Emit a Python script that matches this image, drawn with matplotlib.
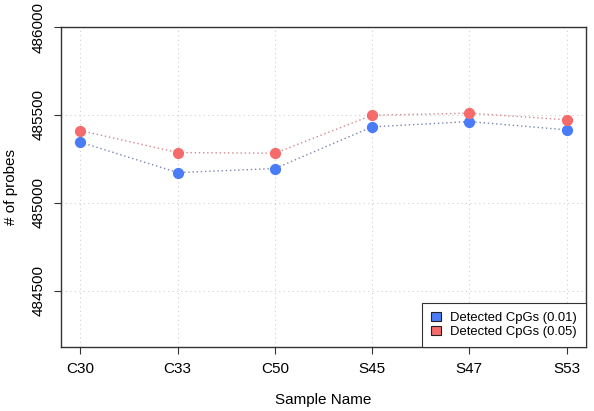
import matplotlib
matplotlib.use("Agg")
import matplotlib.pyplot as plt
from matplotlib.patches import Patch

plt.rcParams.update({
    "font.family": ["Liberation Sans", "DejaVu Sans"],
    "font.size": 11,
})

samples = ["C30", "C33", "C50", "S45", "S47", "S53"]
detected_01 = [485345, 485172, 485195, 485432, 485462, 485415]
detected_05 = [485411, 485286, 485282, 485498, 485510, 485472]
y_ticks = [484500, 485000, 485500, 486000]

blue = "#4a7cf7"
red = "#f56b6b"

fig = plt.figure(figsize=(5.94, 4.11), dpi=100)
ax = fig.add_axes([0.1027, 0.1557, 0.8838, 0.7786])

x = list(range(1, len(samples) + 1))
ax.plot(x, detected_01, linestyle=(0, (1, 2)), color="#7a86b0", lw=1, zorder=2)
ax.plot(x, detected_05, linestyle=(0, (1, 2)), color="#d08a90", lw=1, zorder=2)
ax.scatter(x, detected_01, s=50, color=blue, zorder=3)
ax.scatter(x, detected_05, s=50, color=red, zorder=3)

ax.set_xlim(0.8, 6.2)
ax.set_ylim(484180, 486000)
ax.set_xticks(x)
ax.set_xticklabels(samples)
ax.set_yticks(y_ticks)
ax.set_yticklabels([str(v) for v in y_ticks], rotation=90, va="center")
ax.grid(True, linestyle=(0, (1, 3)), color="#d0d0d0", lw=0.8)
ax.tick_params(direction="out", length=5, color="#333333", labelsize=11, pad=6)
for s in ax.spines.values():
    s.set_color("#333333")
    s.set_linewidth(1)

ax.set_xlabel("Sample Name", labelpad=12)
ax.set_ylabel("# of probes", labelpad=10)

handles = [Patch(facecolor=blue, edgecolor="#222222", lw=0.8),
           Patch(facecolor=red, edgecolor="#222222", lw=0.8)]
leg = ax.legend(handles, ["Detected CpGs (0.01)", "Detected CpGs (0.05)"],
                loc="lower right", fancybox=False, framealpha=1,
                edgecolor="#333333", borderaxespad=0, fontsize=9.4,
                handlelength=0.75, handleheight=0.75, labelspacing=0.1,
                handletextpad=0.7, borderpad=0.7)
leg.get_frame().set_linewidth(0.8)

fig.savefig("out.png", dpi=100)
